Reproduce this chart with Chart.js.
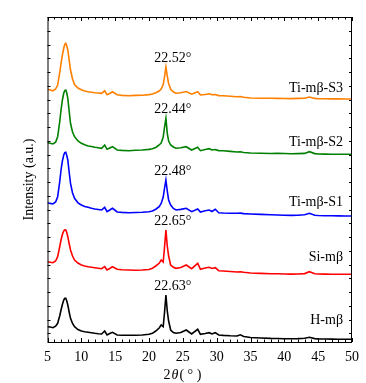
<!DOCTYPE html>
<html>
<head>
<meta charset="utf-8">
<script src="https://cdn.jsdelivr.net/npm/chart.js@4"></script>
<style>
  html, body { margin: 0; padding: 0; background: #fff; }
  canvas { display: block; }
</style>
</head>
<body>
<canvas id="xrdChart" width="366" height="383"></canvas>
<script>
// 2theta positions shared by all patterns
const angles = [5, 5.4, 5.8, 6.2, 6.5, 6.8, 7.0, 7.2, 7.4, 7.55,
    7.7, 7.85, 8.0, 8.2, 8.4, 8.7, 9, 9.5, 10, 10.5,
    11, 11.5, 12, 12.5, 13, 13.45, 13.8, 14.2, 14.6, 15.3,
    16, 17, 18, 19, 20, 20.5, 21, 21.5, 21.8, 22.1,
    22.3, 22.5, 22.7, 22.9, 23.2, 23.6, 24, 24.7, 25.5, 26.3,
    27.2, 27.6, 28.3, 28.9, 29.3, 29.8, 30.3, 31, 32, 33,
    33.5, 34, 35, 36.5, 38, 39, 40, 41, 42, 43,
    43.7, 44.5, 45, 46, 47, 48, 49, 50];

// stacked intensities (a.u.)
const tiS3 = [2527, 2520, 2512, 2530, 2570, 2690, 2787, 2870, 2937, 2975,
    2987, 2960, 2920, 2820, 2720, 2630, 2575, 2540, 2522, 2510,
    2503, 2498, 2493, 2490, 2487, 2512, 2472, 2485, 2502, 2472,
    2466, 2463, 2466, 2467, 2474, 2480, 2492, 2510, 2530, 2575,
    2653, 2750, 2660, 2585, 2527, 2500, 2487, 2492, 2505, 2478,
    2502, 2470, 2475, 2482, 2472, 2474, 2464, 2463, 2458, 2453,
    2455, 2447, 2440, 2438, 2437, 2436, 2435, 2434, 2436, 2437,
    2450, 2436, 2433, 2432, 2431, 2431, 2430, 2430];

const tiS2 = [1993, 1988, 1980, 1998, 2053, 2200, 2320, 2420, 2487, 2515,
    2520, 2490, 2437, 2310, 2187, 2100, 2053, 2010, 1987, 1972,
    1960, 1955, 1947, 1942, 1937, 1970, 1927, 1940, 1953, 1920,
    1916, 1913, 1917, 1920, 1926, 1933, 1945, 1970, 1990, 2050,
    2150, 2237, 2087, 2010, 1970, 1950, 1937, 1942, 1953, 1920,
    1947, 1913, 1925, 1933, 1920, 1925, 1914, 1913, 1906, 1900,
    1903, 1895, 1890, 1888, 1885, 1886, 1885, 1883, 1884, 1886,
    1903, 1884, 1880, 1879, 1878, 1878, 1877, 1877];

const tiS1 = [1393, 1386, 1380, 1400, 1453, 1600, 1720, 1810, 1870, 1893,
    1897, 1865, 1820, 1700, 1587, 1490, 1437, 1392, 1370, 1355,
    1347, 1338, 1330, 1325, 1320, 1347, 1303, 1320, 1337, 1300,
    1296, 1293, 1295, 1297, 1303, 1310, 1328, 1353, 1385, 1450,
    1540, 1620, 1510, 1420, 1370, 1335, 1320, 1326, 1337, 1303,
    1330, 1300, 1312, 1320, 1305, 1327, 1293, 1290, 1288, 1287,
    1289, 1284, 1280, 1276, 1272, 1270, 1267, 1266, 1268, 1272,
    1287, 1268, 1265, 1263, 1262, 1261, 1260, 1260];

const siMb = [803, 798, 793, 810, 853, 950, 1020, 1075, 1110, 1122,
    1120, 1095, 1053, 985, 920, 860, 820, 790, 770, 760,
    753, 748, 743, 738, 733, 753, 720, 735, 753, 727,
    722, 720, 718, 720, 725, 737, 760, 787, 820, 800,
    950, 1120, 960, 860, 770, 748, 737, 745, 770, 733,
    787, 727, 740, 747, 735, 743, 713, 710, 705, 700,
    702, 697, 690, 686, 683, 682, 680, 679, 680, 684,
    703, 683, 680, 679, 678, 678, 677, 677];

const hMb = [153, 150, 143, 158, 187, 260, 320, 375, 420, 437,
    437, 410, 370, 300, 237, 185, 153, 125, 110, 102,
    97, 92, 87, 83, 80, 110, 70, 85, 97, 70,
    68, 67, 68, 70, 78, 87, 110, 140, 170, 153,
    300, 470, 310, 210, 120, 95, 87, 95, 120, 80,
    127, 77, 85, 93, 80, 93, 70, 66, 62, 60,
    72, 55, 45, 40, 36, 35, 33, 32, 34, 38,
    47, 34, 31, 30, 29, 28, 27, 27];

const sampleNames = ['Ti-mβ-S3', 'Ti-mβ-S2', 'Ti-mβ-S1', 'Si-mβ', 'H-mβ'];
const peakLabels = ['22.52°', '22.44°', '22.48°', '22.65°', '22.63°'];
const xTicks = [5, 10, 15, 20, 25, 30, 35, 40, 45, 50];

const series = [tiS3, tiS2, tiS1, siMb, hMb];
const colors = ['#ff8000', '#008000', '#0000ff', '#ff0000', '#000000'];
const nameLift = [11, 12, 14, 17, 19];
const serif = '"Liberation Serif", "Times New Roman", serif';

const yMax = 3250;
const yStep = 137.5;

const decor = {
    id: 'decor',
    afterDatasetsDraw(chart) {
        const { ctx, chartArea: a, scales: { x, y } } = chart;
        ctx.save();
        ctx.strokeStyle = '#000';
        ctx.lineWidth = 1;
        ctx.strokeRect(a.left + 0.5, a.top + 0.5, a.right - a.left - 1, a.bottom - a.top);

        // inner tick marks
        ctx.beginPath();
        for (let v = 5; v <= 50; v++) {
            const px = Math.round(x.getPixelForValue(v)) + 0.5;
            const len = v % 5 === 0 ? 4 : 2.5;
            ctx.moveTo(px, a.bottom); ctx.lineTo(px, a.bottom - len);
            ctx.moveTo(px, a.top); ctx.lineTo(px, a.top + len);
        }
        for (let v = yMax; v > 0; v -= yStep) {
            const py = Math.round(y.getPixelForValue(v)) + 0.5;
            ctx.moveTo(a.left, py); ctx.lineTo(a.left + 3, py);
            ctx.moveTo(a.right, py); ctx.lineTo(a.right - 3, py);
        }
        ctx.stroke();

        // peak and sample labels
        ctx.fillStyle = '#000';
        ctx.font = '14px ' + serif;
        ctx.textBaseline = 'middle';
        series.forEach((data, i) => {
            let top = 0, at = 0;
            angles.forEach((t, j) => {
                if (t > 21 && t < 24 && data[j] > top) { top = data[j]; at = t; }
            });
            ctx.textAlign = 'center';
            ctx.fillText(peakLabels[i], x.getPixelForValue(at) + 7, y.getPixelForValue(top) - 9);
            ctx.textAlign = 'right';
            ctx.fillText(sampleNames[i], a.right - 9, y.getPixelForValue(data[data.length - 1]) - nameLift[i]);
        });

        // axis titles
        ctx.save();
        ctx.translate(29, (a.top + a.bottom) / 2);
        ctx.rotate(-Math.PI / 2);
        ctx.textAlign = 'center';
        ctx.fillText('Intensity (a.u.)', 0, 0);
        ctx.restore();

        const parts = [['2', '14px '], ['θ', 'italic 14px '], ['( ° )', '14px ']];
        let w = 0;
        parts.forEach(p => { ctx.font = p[1] + serif; w += ctx.measureText(p[0]).width; });
        let cx = x.getPixelForValue(24.8) - w / 2;
        ctx.textAlign = 'left';
        parts.forEach(p => {
            ctx.font = p[1] + serif;
            ctx.fillText(p[0], cx, 375);
            cx += ctx.measureText(p[0]).width + 1;
        });
        ctx.restore();
    }
};

new Chart(document.getElementById('xrdChart'), {
    type: 'line',
    data: {
        datasets: series.map((data, i) => ({
            label: sampleNames[i],
            data: angles.map((t, j) => ({ x: t, y: data[j] })),
            borderColor: colors[i],
            borderWidth: 1.6,
            pointRadius: 0,
            tension: 0,
            fill: false
        }))
    },
    options: {
        responsive: false,
        animation: false,
        devicePixelRatio: 1,
        layout: { padding: { top: 17, right: 13, left: 0, bottom: 0 } },
        plugins: {
            legend: { display: false },
            tooltip: { enabled: false }
        },
        scales: {
            x: {
                type: 'linear',
                min: 5,
                max: 50,
                afterFit: s => { s.height = 41; },
                afterBuildTicks: s => { s.ticks = xTicks.map(v => ({ value: v })); },
                grid: { display: false, drawTicks: false },
                border: { display: false },
                ticks: {
                    color: '#000',
                    padding: 7,
                    maxRotation: 0,
                    font: { family: serif, size: 14 }
                }
            },
            y: {
                type: 'linear',
                min: 0,
                max: yMax,
                afterFit: s => { s.width = 47.5; },
                grid: { display: false, drawTicks: false },
                border: { display: false },
                ticks: { display: false }
            }
        }
    },
    plugins: [decor]
});
</script>
</body>
</html>
